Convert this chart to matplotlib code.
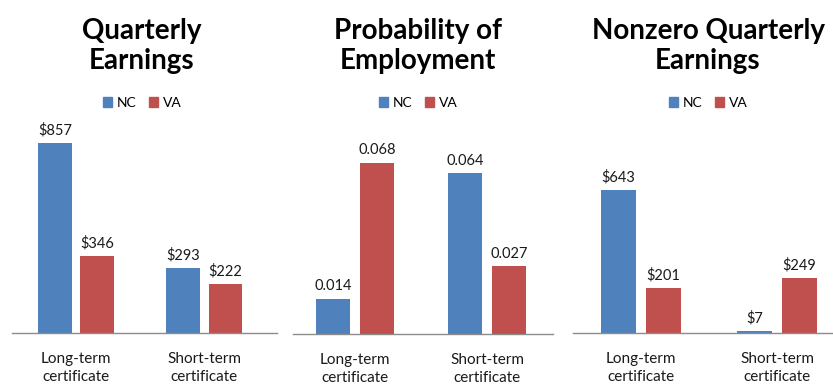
import matplotlib.pyplot as plt
from matplotlib.patches import Patch

plt.rcParams['font.family'] = ['Lato', 'DejaVu Sans']

# data for the three panels
titles = ['Quarterly\nEarnings', 'Probability of\nEmployment', 'Nonzero Quarterly\nEarnings']
categories = ['Long-term\ncertificate', 'Short-term\ncertificate']
series = ['NC', 'VA']
nc_values = [[857, 293], [0.014, 0.064], [643, 7]]
va_values = [[346, 222], [0.068, 0.027], [201, 249]]
label_fmt = ['${:.0f}', '{:.3f}', '${:.0f}']

colors = ['#4F81BD', '#C0504D']

W, H = 833, 386
fig = plt.figure(figsize=(W / 100, H / 100), dpi=100)

# panel geometry in pixels: left, right, baseline, top
boxes = [(12, 277, 333, 111), (293, 553, 334, 111), (573, 833, 333, 111)]
xlims = [(-0.5, 1.57), (-0.47, 1.5), (-0.5, 1.41)]
ylims = [1000, 0.0887, 1000]
title_x = [142, 418, 708]

width = 0.26
offset = 0.165

for i in range(3):
    left, right, base, top = boxes[i]
    ax = fig.add_axes([left / W, 1 - base / H, (right - left) / W, (base - top) / H])
    ax.set_xlim(*xlims[i])
    ax.set_ylim(0, ylims[i])
    xs = [0, 1]
    for vals, sign, col in [(nc_values[i], -1, colors[0]), (va_values[i], 1, colors[1])]:
        bars = ax.bar([x + sign * offset for x in xs], vals, width=width, color=col)
        for b, v in zip(bars, vals):
            ax.annotate(label_fmt[i].format(v), (b.get_x() + b.get_width() / 2, v),
                        xytext=(0, 4), textcoords='offset points',
                        ha='center', va='bottom', fontsize=10.5, color='#1a1a1a')
    for s in ['top', 'left', 'right']:
        ax.spines[s].set_visible(False)
    ax.spines['bottom'].set_color('#8c8c8c')
    ax.spines['bottom'].set_linewidth(1.0)
    ax.set_yticks([])
    ax.set_xticks(xs)
    ax.set_xticklabels(categories, fontsize=11, color='#1a1a1a', linespacing=1.3)
    ax.tick_params(axis='x', length=0, pad=14)
    ax.patch.set_alpha(0)

    fig.text(title_x[i] / W, 1 - 46 / H, titles[i], ha='center', va='center',
             fontsize=20, fontweight='bold', linespacing=1.15)
    handles = [Patch(color=c) for c in colors]
    fig.legend(handles, series, loc='center', ncol=2,
               bbox_to_anchor=(title_x[i] / W, 1 - 103 / H),
               frameon=False, fontsize=10, handlelength=0.65, handleheight=0.65,
               handletextpad=0.35, columnspacing=0.9, borderaxespad=0)

fig.savefig('out.png', dpi=100)
